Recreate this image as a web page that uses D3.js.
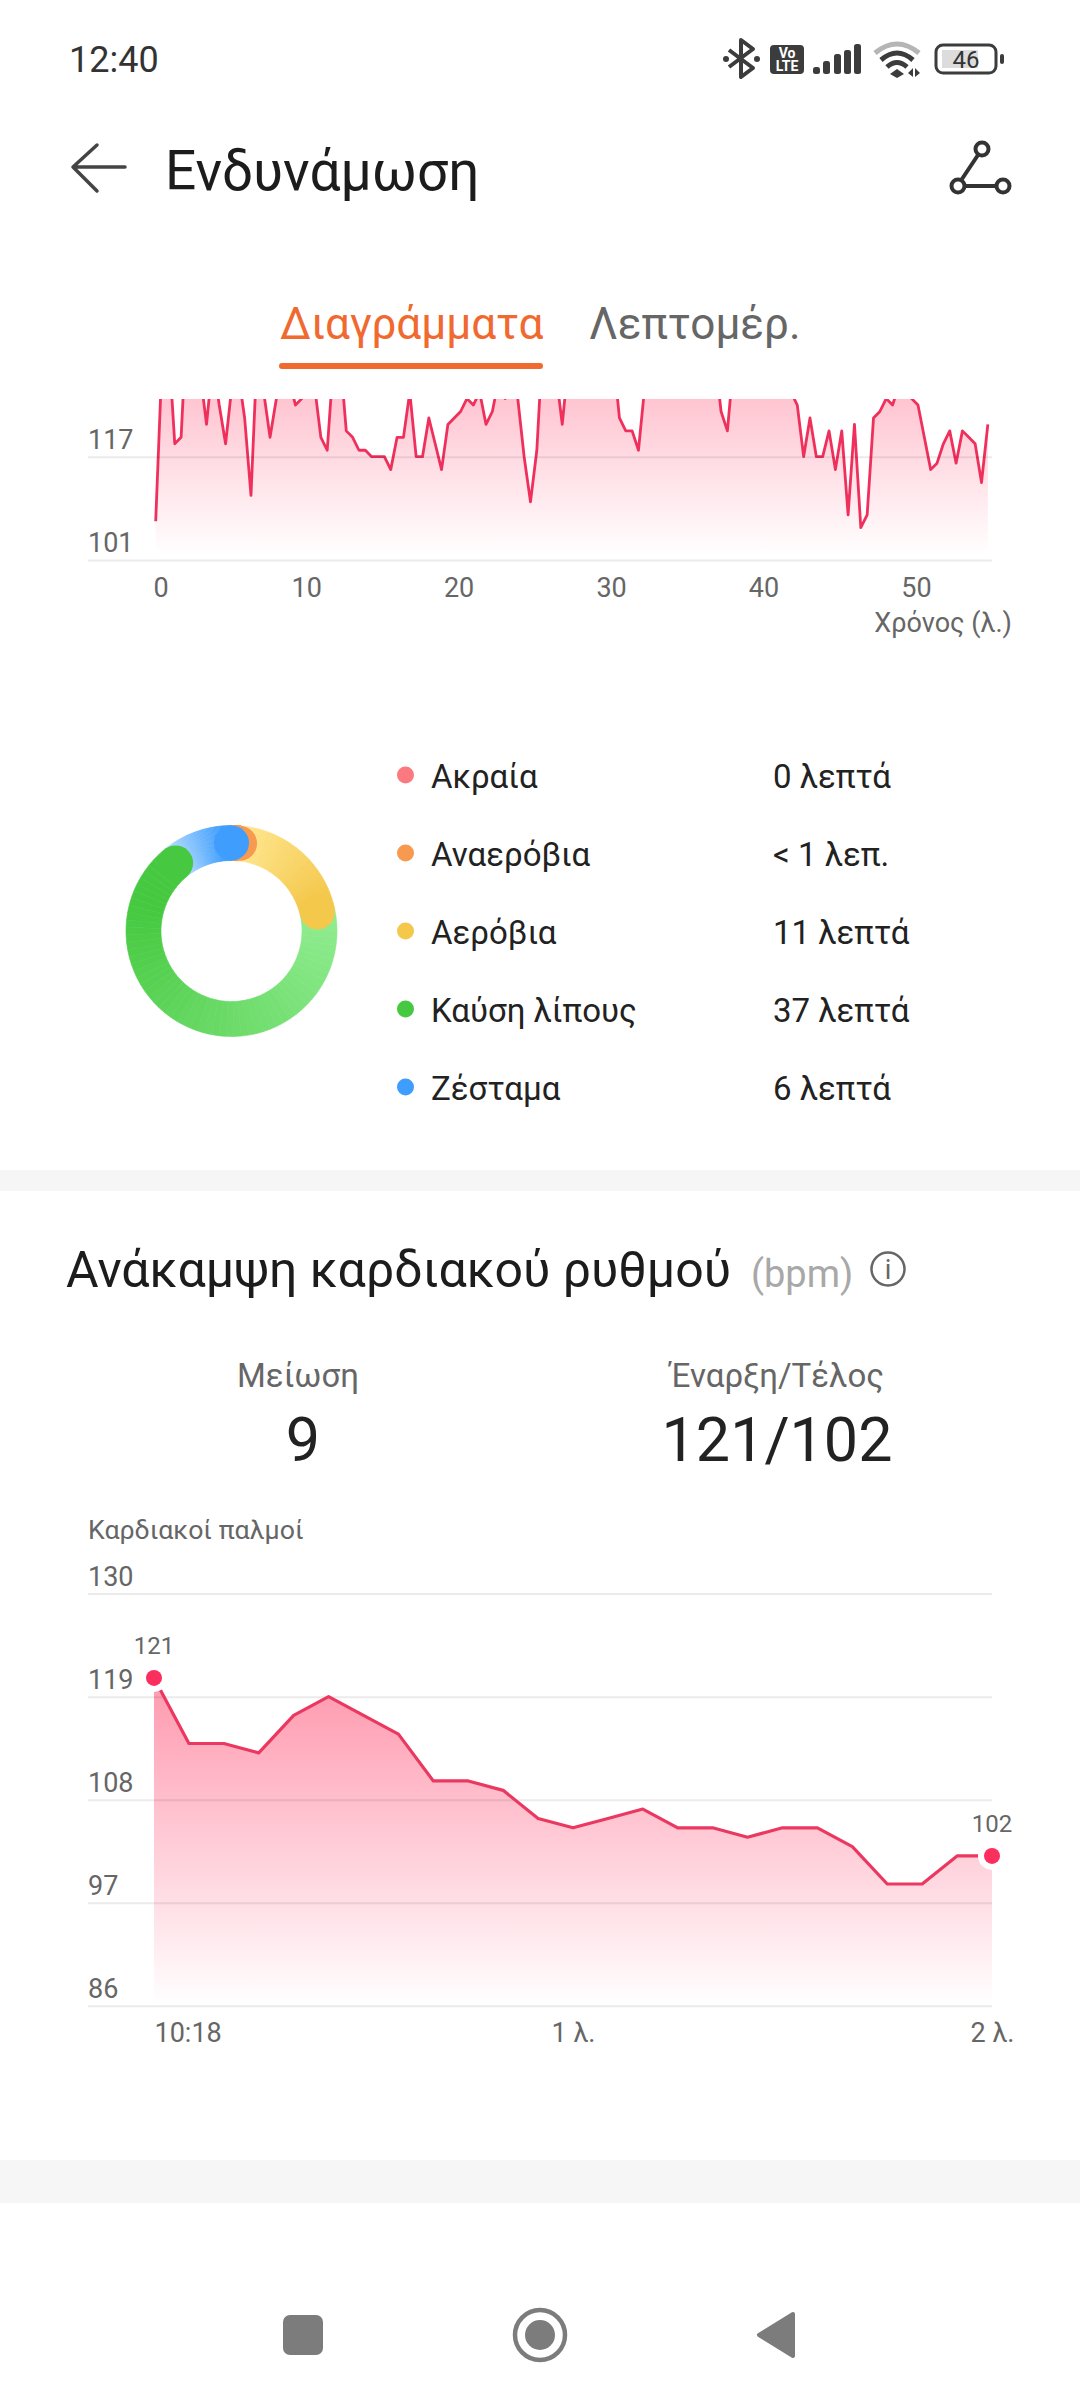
<!DOCTYPE html>
<html>
<head>
<meta charset="utf-8">
<script src="https://cdn.jsdelivr.net/npm/d3@7"></script>
<style>
body { margin: 0; background: #fff; }
svg { display: block; }
text { font-family: Roboto, sans-serif; }
</style>
</head>
<body>
<div id="chart"></div>
<script>
//====================DATA===================

// workout heart rate, one sample every 25 s (values above the crop are estimates)
const workoutBpm = [
107,132,135,119,120,140,135,130,122,132,
125,119,128,130,123,111,134,127,120,126,
128,129,125,126,130,128,120,118,132,133,
121,120,118,118,117,117,117,115,120,120,
127,117,117,123,119,115,122,123,124,126,
125,127,122,124,129,126,128,126,117,110,
118,136,134,130,122,132,134,135,134,133,
134,135,133,123,121,121,118,128,132,134,
135,136,135,134,135,136,135,134,133,124,
121,132,134,135,136,135,134,135,134,133,
127,125,117,123,117,117,121,115,121,108,
122,106,108,123,124,126,125,128,129,126,
125,120,115,116,119,121,116,121,120,119,
113,122];
const workoutStepMin = 25 / 60;
const workoutYTicks = [101, 117];
const workoutXTicks = [0, 10, 20, 30, 40, 50];

const zoneNames = ['Ακραία', 'Αναερόβια', 'Αερόβια', 'Καύση λίπους', 'Ζέσταμα'];
const zoneLabels = ['0 λεπτά', '< 1 λεπ.', '11 λεπτά', '37 λεπτά', '6 λεπτά'];
const zoneMinutes = [0, 0.8, 11, 37, 6];
const zoneColors = ['#fb7a7f', '#f79a4f', '#f4c84b', '#46c940', '#3f9dfd'];
const zoneLight = ['#fb7a7f', '#f79a4f', '#ffe68f', '#90ec90', '#b8deff'];

// recovery heart rate, one sample every 5 s
const recoveryBpm = [121,114,114,113,117,119,117,115,110,110,109,106,105,106,107,105,105,104,105,105,103,99,99,102,102];
const recoveryStepSec = 5;
const recoveryYTicks = [86, 97, 108, 119, 130];
const recoveryXTicks = [0, 60, 120];
const recoveryXLabels = ['10:18', '1 λ.', '2 λ.'];

//====================STRUCTURE===================

const width = 1080;
const height = 2400;
const gridLeft = 88;
const gridWidth = 904;
const grey = '#666';
const dark = '#222';
const red = '#f0305c';

const svg = d3.select('#chart').append('svg')
.attr('width', width)
.attr('height', height)
.attr('viewBox', `0 0 ${width} ${height}`);

const defs = svg.append('defs');

const addText = (parent, x, y, str, size, color, anchor) => parent.append('text')
.attr('x', x)
.attr('y', y)
.attr('font-size', size)
.attr('fill', color)
.attr('text-anchor', anchor || 'start')
.text(str);

const addGradient = (id, y1, y2, top) => {
	const g = defs.append('linearGradient')
	.attr('id', id)
	.attr('gradientUnits', 'userSpaceOnUse')
	.attr('x1', 0).attr('x2', 0)
	.attr('y1', y1).attr('y2', y2);
	g.append('stop').attr('offset', 0).attr('stop-color', top);
	g.append('stop').attr('offset', 1).attr('stop-color', '#fff');
};

const styleYAxis = (g) => {
	g.select('.domain').remove();
	g.selectAll('line').attr('stroke', '#000').attr('stroke-opacity', 0.08).attr('stroke-width', 2);
	g.selectAll('text')
	.attr('x', 0)
	.attr('dy', -8.5)
	.attr('font-size', 27)
	.attr('fill', grey)
	.attr('text-anchor', 'start');
};

const styleXAxis = (g) => {
	g.select('.domain').remove();
	g.selectAll('line').remove();
	g.selectAll('text')
	.attr('y', 0)
	.attr('dy', 0)
	.attr('font-size', 27)
	.attr('fill', grey);
};

//====================STATUS BAR AND HEADER===================

const head = svg.append('g');
addText(head, 69, 72, '12:40', 36, '#333');

const icons = head.append('g').attr('fill', 'none').attr('stroke', '#3c3c3c');

icons.append('path')
.attr('d', 'M729,50 L753,68 L741,77 L741,40 L753,49 L729,67')
.attr('stroke-width', 4)
.attr('stroke-linejoin', 'round');
icons.append('circle').attr('cx', 726).attr('cy', 59).attr('r', 3).attr('fill', '#3c3c3c').attr('stroke', 'none');
icons.append('circle').attr('cx', 757).attr('cy', 59).attr('r', 3).attr('fill', '#3c3c3c').attr('stroke', 'none');

head.append('rect').attr('x', 770).attr('y', 45).attr('width', 34).attr('height', 29).attr('rx', 4).attr('fill', '#3c3c3c');
addText(head, 787, 58, 'Vo', 14, '#fff', 'middle').attr('font-weight', 700);
addText(head, 787, 71, 'LTE', 14, '#fff', 'middle').attr('font-weight', 700);

[[813, 67], [823, 61], [834, 54], [844, 50], [854, 44]].forEach(b => {
	head.append('rect')
	.attr('x', b[0]).attr('y', b[1])
	.attr('width', 7).attr('height', 74 - b[1])
	.attr('rx', 2.5)
	.attr('fill', '#3c3c3c');
});

// wifi
icons.append('path').attr('d', 'M875,53 Q897,35 919,53').attr('stroke', '#b5b5b5').attr('stroke-width', 5);
icons.append('path').attr('d', 'M881,60 Q897,46 913,60').attr('stroke-width', 5);
icons.append('path').attr('d', 'M887,67 Q897,58 907,67').attr('stroke-width', 5);
head.append('path').attr('d', 'M897,69 L904,74 L897,78 L890,74 Z').attr('fill', '#3c3c3c');
head.append('path').attr('d', 'M908,73 L913,68 L913,77 Z M915,68 L920,73 L915,77 Z').attr('fill', '#3c3c3c');

// battery
head.append('rect').attr('x', 942).attr('y', 50).attr('width', 36).attr('height', 18).attr('fill', '#dcdcdc');
icons.append('rect').attr('x', 936).attr('y', 45).attr('width', 60).attr('height', 28).attr('rx', 7).attr('stroke-width', 3);
head.append('rect').attr('x', 1000).attr('y', 54).attr('width', 4).attr('height', 10).attr('rx', 2).attr('fill', '#3c3c3c');
addText(head, 966, 68, '46', 24, '#333', 'middle');

// back arrow
head.append('path')
.attr('d', 'M97,145 L73,167 L97,191 M73,167 L125,167')
.attr('fill', 'none')
.attr('stroke', '#444')
.attr('stroke-width', 3.5)
.attr('stroke-linecap', 'round')
.attr('stroke-linejoin', 'round');

addText(head, 165, 190, 'Ενδυνάμωση', 55, '#1c1c1c');

// route icon
const route = head.append('g').attr('fill', 'none').attr('stroke', '#333').attr('stroke-width', 4);
route.append('path').attr('d', 'M978,155 L962,179 M965,186 L996,186');
route.append('circle').attr('cx', 982).attr('cy', 149).attr('r', 6.5);
route.append('circle').attr('cx', 958).attr('cy', 186).attr('r', 6.5);
route.append('circle').attr('cx', 1003).attr('cy', 186).attr('r', 6.5);

// tabs
addText(head, 280, 339, 'Διαγράμματα', 44, '#f0692f');
addText(head, 589, 339, 'Λεπτομέρ.', 44, grey);
head.append('rect').attr('x', 279).attr('y', 363).attr('width', 264).attr('height', 6).attr('rx', 3).attr('fill', '#f0692f');

//====================WORKOUT CHART===================

const x1 = d3.scaleLinear().domain([0, 54.58]).range([155.7, 987.8]);
const y1 = d3.scaleLinear().domain([101, 117]).range([560, 456.7]);

addGradient('fade1', 399, 555, '#ffc5d1');

defs.append('clipPath').attr('id', 'crop1')
.append('rect').attr('x', 80).attr('y', 399).attr('width', 920).attr('height', 170);

const workout = svg.append('g');
const workoutPlot = workout.append('g').attr('clip-path', 'url(#crop1)');

workoutPlot.append('path')
.datum(workoutBpm)
.attr('fill', 'url(#fade1)')
.attr('d', d3.area().x((d, i) => x1(i * workoutStepMin)).y0(y1(101)).y1(d => y1(d)));

workout.append('g')
.attr('transform', `translate(${gridLeft},0)`)
.call(d3.axisRight(y1).tickValues(workoutYTicks).tickSize(gridWidth))
.call(styleYAxis);

workoutPlot.append('path')
.datum(workoutBpm)
.attr('fill', 'none')
.attr('stroke', red)
.attr('stroke-width', 2.8)
.attr('stroke-linejoin', 'round')
.attr('d', d3.line().x((d, i) => x1(i * workoutStepMin)).y(d => y1(d)));

workout.append('g')
.attr('transform', 'translate(0,597)')
.call(d3.axisBottom(x1).tickValues(workoutXTicks).tickFormat(d3.format('d')))
.call(styleXAxis)
.selectAll('text')
.attr('dx', d => d === 0 ? 5 : -2);

addText(workout, 1012, 632, 'Χρόνος (λ.)', 27, grey, 'end');

//====================ZONES DONUT===================

const donut = svg.append('g').attr('transform', 'translate(231.5,931)');
const outerR = 105.5;
const innerR = 70.5;

const pieData = d3.pie().sort(null)(zoneMinutes);
const arc = d3.arc().innerRadius(innerR).outerRadius(outerR);
const stepCount = 60;

// small steps give the sweep gradient along each ring segment
pieData.forEach((p, z) => {
	if(p.value === 0) return;
	const color = d3.interpolateRgb(zoneLight[z], zoneColors[z]);
	d3.range(stepCount).forEach(s => {
		const a0 = p.startAngle + (p.endAngle - p.startAngle) * s / stepCount;
		const a1 = p.startAngle + (p.endAngle - p.startAngle) * (s + 1) / stepCount;
		const c = color(Math.min(1, s / stepCount / 0.85));
		donut.append('path')
		.attr('d', arc({startAngle: a0, endAngle: a1}))
		.attr('fill', c)
		.attr('stroke', c)
		.attr('stroke-width', 0.6);
	});
});

// round end of every segment sits on top of the next one
pieData.forEach((p, z) => {
	if(p.value === 0) return;
	const c = arc.centroid({startAngle: p.endAngle, endAngle: p.endAngle});
	donut.append('circle')
	.attr('cx', c[0])
	.attr('cy', c[1])
	.attr('r', (outerR - innerR) / 2)
	.attr('fill', zoneColors[z]);
});

const legendY = d3.scalePoint().domain(zoneNames).range([775, 1087]);
const legend = svg.append('g');

zoneNames.forEach((name, i) => {
	legend.append('circle')
	.attr('cx', 405.5)
	.attr('cy', legendY(name))
	.attr('r', 8.5)
	.attr('fill', zoneColors[i]);
	addText(legend, 431, legendY(name) + 13, name, 33, dark);
	addText(legend, 773, legendY(name) + 13, zoneLabels[i], 33, dark);
});

//====================SECTION BANDS===================

svg.append('rect').attr('x', 0).attr('y', 1170).attr('width', width).attr('height', 21).attr('fill', '#f6f6f6');
svg.append('rect').attr('x', 0).attr('y', 2160).attr('width', width).attr('height', 43).attr('fill', '#f6f6f6');

//====================RECOVERY HEADER===================

const rec = svg.append('g');
addText(rec, 66, 1287, 'Ανάκαμψη καρδιακού ρυθμού', 50, '#1c1c1c');
addText(rec, 751, 1287, '(bpm)', 38, '#a8a8a8');
rec.append('circle').attr('cx', 888).attr('cy', 1269).attr('r', 16.5).attr('fill', 'none').attr('stroke', grey).attr('stroke-width', 2.5);
addText(rec, 888, 1279, 'i', 27, grey, 'middle');

addText(rec, 298, 1387, 'Μείωση', 33, grey, 'middle');
addText(rec, 303, 1461, '9', 61, dark, 'middle');
addText(rec, 777, 1387, 'Έναρξη/Τέλος', 33, grey, 'middle');
addText(rec, 777, 1461, '121/102', 61, dark, 'middle');

addText(rec, 88, 1539, 'Καρδιακοί παλμοί', 26.7, grey);

//====================RECOVERY CHART===================

const x2 = d3.scaleLinear().domain([0, 120]).range([154, 992]);
const y2 = d3.scaleLinear().domain([86, 130]).range([2005.8, 1593.6]);

addGradient('fade2', y2(121), y2(86), '#ff98ae');

rec.append('path')
.datum(recoveryBpm)
.attr('fill', 'url(#fade2)')
.attr('d', d3.area().x((d, i) => x2(i * recoveryStepSec)).y0(y2(86)).y1(d => y2(d)));

rec.append('g')
.attr('transform', `translate(${gridLeft},0)`)
.call(d3.axisRight(y2).tickValues(recoveryYTicks).tickSize(gridWidth))
.call(styleYAxis);

rec.append('path')
.datum(recoveryBpm)
.attr('fill', 'none')
.attr('stroke', '#ea3860')
.attr('stroke-width', 3.2)
.attr('stroke-linejoin', 'round')
.attr('d', d3.line().x((d, i) => x2(i * recoveryStepSec)).y(d => y2(d)));

rec.append('g')
.attr('transform', 'translate(0,2042)')
.call(d3.axisBottom(x2).tickValues(recoveryXTicks).tickFormat((d, i) => recoveryXLabels[i]))
.call(styleXAxis)
.selectAll('text')
.attr('text-anchor', d => d === 0 ? 'start' : 'middle');

// first and last readings
[0, recoveryBpm.length - 1].forEach(i => {
	const cx = x2(i * recoveryStepSec);
	const cy = y2(recoveryBpm[i]);
	rec.append('circle').attr('cx', cx).attr('cy', cy).attr('r', 14).attr('fill', '#fff');
	rec.append('circle').attr('cx', cx).attr('cy', cy).attr('r', 8).attr('fill', '#fb2f5d');
	addText(rec, cx, cy - 24, recoveryBpm[i], 24, grey, 'middle');
});

//====================NAV BAR===================

const nav = svg.append('g').attr('fill', '#7c7c7c');
nav.append('rect').attr('x', 283).attr('y', 2315).attr('width', 40).attr('height', 40).attr('rx', 7);
nav.append('circle').attr('cx', 540).attr('cy', 2335).attr('r', 25).attr('fill', 'none').attr('stroke', '#7c7c7c').attr('stroke-width', 4.5);
nav.append('circle').attr('cx', 540).attr('cy', 2335).attr('r', 15);
nav.append('path')
.attr('d', 'M793,2314 L759,2335 L793,2356 Z')
.attr('stroke', '#7c7c7c')
.attr('stroke-width', 4)
.attr('stroke-linejoin', 'round');
</script>
</body>
</html>
